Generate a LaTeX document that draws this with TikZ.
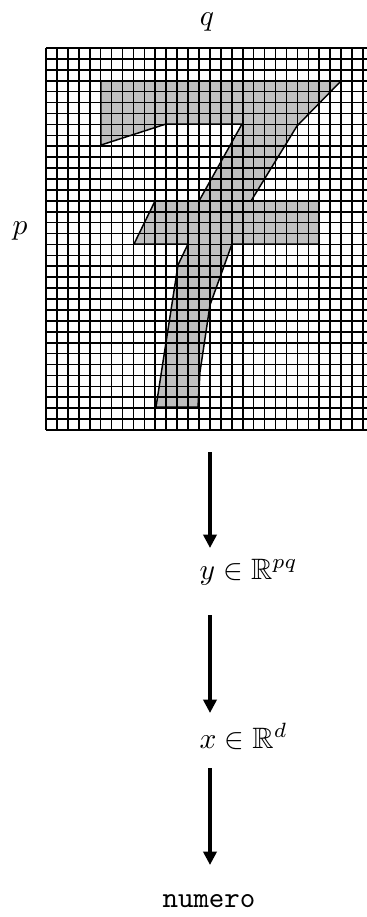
\documentclass[tikz,border=0pt]{standalone}
\usepackage{amssymb}
\usetikzlibrary{arrows.meta}
\begin{document}
\begin{tikzpicture}[x=0.339pt,y=-0.339pt,
  arr/.style={line width=1.35pt,-{Triangle[width=4.4pt,length=4.5pt]}},
  lab/.style={inner sep=0pt},
  gridline/.style={line width=0.55pt,black},
  sevenfill/.style={fill=gray!50},
  sevenline/.style={line width=0.5pt,black,line join=miter},
]
\useasboundingbox (0,0) rectangle (367,917);
% the digit, filled
\fill[sevenfill] (101,81) -- (341,81) -- (297,126) -- (251,201) -- (319,201) -- (319,244)
  -- (232,244) -- (210,305) -- (200,372) -- (198,407) -- (156,407) -- (178,265)
  -- (188,244) -- (134,244) -- (155,201) -- (199,201) -- (242,124) -- (166,124)
  -- (101,145) -- cycle;
% grid
\begin{scope}
\clip (0,0) rectangle (367,917);
\foreach \i in {0,...,35} \draw[gridline] (46,{48+\i*10.914}) -- (367,{48+\i*10.914});
\foreach \j in {0,...,29} \draw[gridline] ({46+\j*10.93},48) -- ({46+\j*10.93},430);
\end{scope}
% outline of the digit
\draw[sevenline] (101,81) -- (341,81) -- (297,126) -- (251,201) -- (319,201) -- (319,244)
  -- (232,244) -- (210,305) -- (200,372) -- (198,407) -- (156,407) -- (178,265)
  -- (188,244) -- (134,244) -- (155,201) -- (199,201) -- (242,124) -- (166,124)
  -- (101,145) -- cycle;
% labels
\node[lab] (q) at (207,22) {$q$};
\node[lab] (p) at (20,231) {$p$};
\node[lab,anchor=base west] (ylab) at (199,579) {$y\in\mathbb{R}^{pq}$};
\node[lab,anchor=base west] (xlab) at (199,748) {$x\in\mathbb{R}^{d}$};
\node[lab,anchor=base] (num) at (209,907) {\texttt{numero}};
% arrows
\coordinate (s1) at (210,452);
\coordinate (e1) at (210,548);
\coordinate (s2) at (210,615);
\coordinate (e2) at (210,713);
\coordinate (s3) at (210,768);
\coordinate (e3) at (210,865);
\draw[arr] (s1) -- (e1);
\draw[arr] (s2) -- (e2);
\draw[arr] (s3) -- (e3);
\end{tikzpicture}
\end{document}
